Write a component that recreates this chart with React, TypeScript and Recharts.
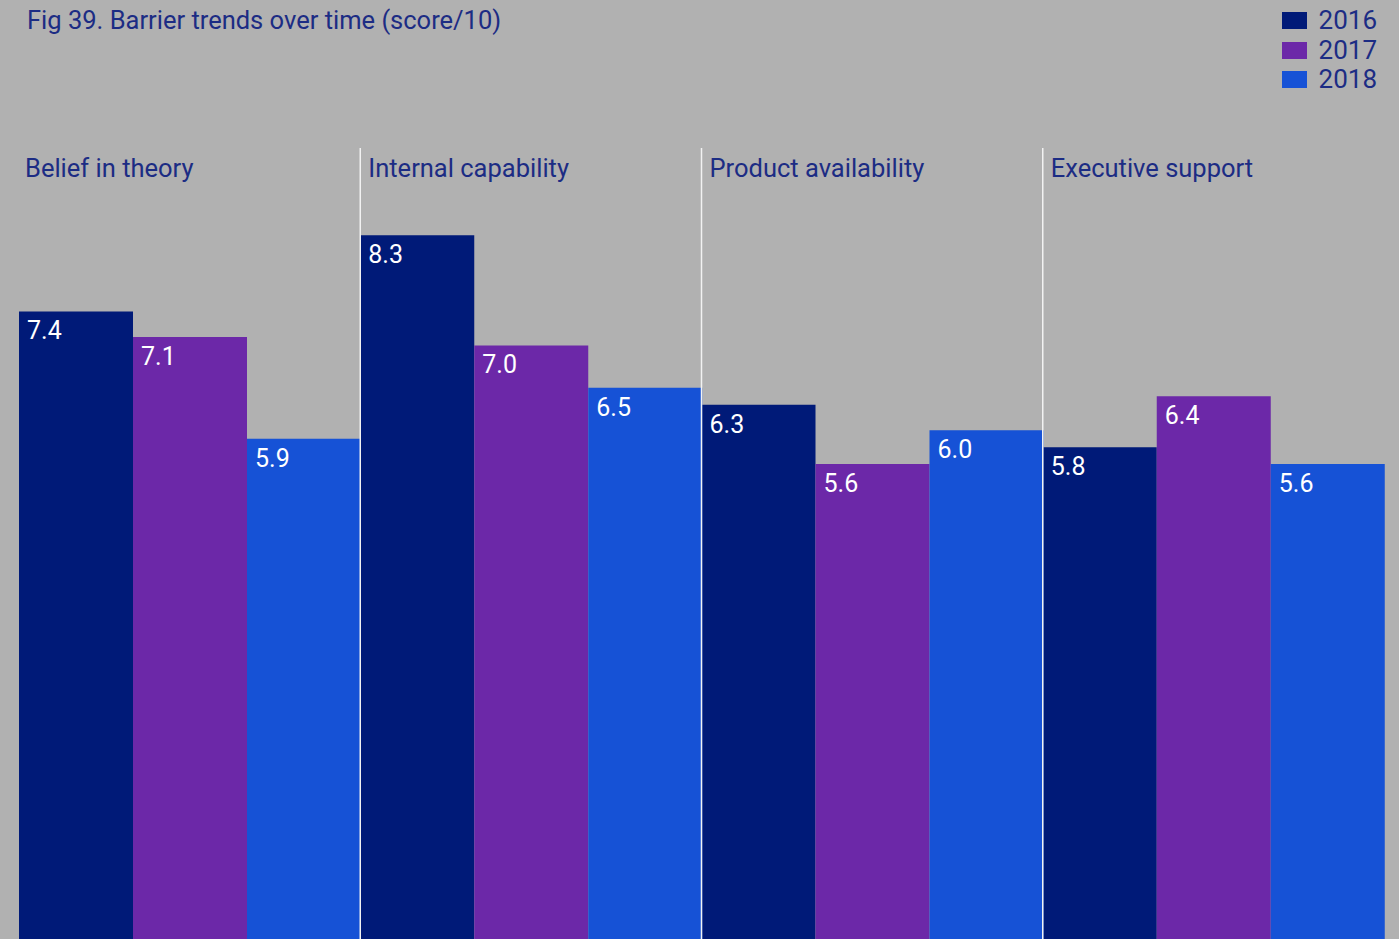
import React from "react";
import { BarChart, Bar, XAxis, YAxis, LabelList } from "recharts";

const categories = ["Belief in theory", "Internal capability", "Product availability", "Executive support"];
const series2016 = [7.4, 8.3, 6.3, 5.8];
const series2017 = [7.1, 7.0, 5.6, 6.4];
const series2018 = [5.9, 6.5, 6.0, 5.6];
const seriesNames = ["2016", "2017", "2018"];
const seriesColors = ["#001a78", "#6c28a8", "#1652d6"];

const data = categories.map((c, i) => ({
  name: c,
  y2016: series2016[i],
  y2017: series2017[i],
  y2018: series2018[i],
}));

const FONT = "Roboto, 'Noto Sans', sans-serif";
const TEXT = "#1c2c84";
const W = 1399;
const H = 939;

const CategoryTick = (props: any) => {
  const { x, payload, index } = props;
  const half = payload && payload.offset ? payload.offset : 0;
  const left = x - half;
  return (
    <g>
      {index > 0 && <line x1={left} x2={left} y1={148} y2={H} stroke="#f2f2f2" strokeWidth={1.5} />}
      <text x={left + (index > 0 ? 8 : 6)} y={177} fill={TEXT} fontSize={25.5} fontFamily={FONT}>
        {payload.value}
      </text>
    </g>
  );
};

const ValueLabel = (props: any) => {
  const { x, y, value } = props;
  return (
    <text x={x + 8} y={y + 28} fill="#ffffff" fontSize={25} fontFamily={FONT}>
      {Number(value).toFixed(1)}
    </text>
  );
};

export default function App() {
  return (
    <div style={{ position: "absolute", left: 0, top: 0, width: W, height: H, background: "#b1b1b1", overflow: "hidden" }}>
      <div style={{ position: "absolute", left: 27, top: 5, fontFamily: FONT, fontSize: 25.5, color: TEXT, whiteSpace: "nowrap" }}>
        Fig 39. Barrier trends over time (score/10)
      </div>
      <div style={{ position: "absolute", right: 22, top: 6, display: "flex", flexDirection: "column", fontFamily: FONT }}>
        {seriesNames.map((n, i) => (
          <div key={n} style={{ display: "flex", alignItems: "center", height: 29.5 }}>
            <div style={{ width: 25, height: 17, background: seriesColors[i], marginRight: 12 }} />
            <span style={{ color: TEXT, fontSize: 26, lineHeight: "29px" }}>{n}</span>
          </div>
        ))}
      </div>
      <BarChart width={W} height={H} data={data} margin={{ top: 0, right: 15, left: 19, bottom: 0 }} barCategoryGap={0} barGap={0}>
        <XAxis dataKey="name" orientation="top" height={91} axisLine={false} tickLine={false} tick={<CategoryTick />} interval={0} />
        <YAxis hide domain={[0, 10]} />
        <Bar dataKey="y2016" name="2016" fill={seriesColors[0]} isAnimationActive={false}>
          <LabelList dataKey="y2016" content={<ValueLabel />} />
        </Bar>
        <Bar dataKey="y2017" name="2017" fill={seriesColors[1]} isAnimationActive={false}>
          <LabelList dataKey="y2017" content={<ValueLabel />} />
        </Bar>
        <Bar dataKey="y2018" name="2018" fill={seriesColors[2]} isAnimationActive={false}>
          <LabelList dataKey="y2018" content={<ValueLabel />} />
        </Bar>
      </BarChart>
    </div>
  );
}
